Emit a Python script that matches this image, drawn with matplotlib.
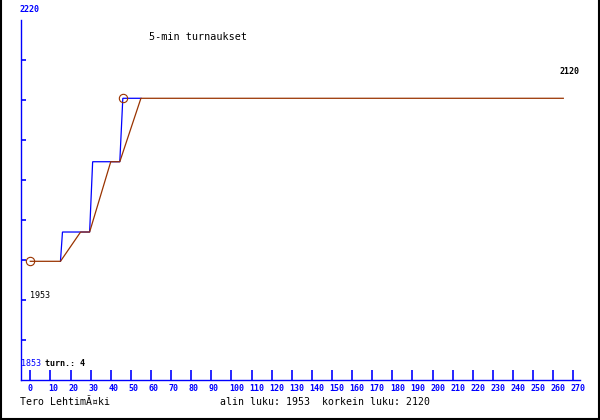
import matplotlib
matplotlib.use("Agg")
import matplotlib.pyplot as plt
import matplotlib.transforms as mtransforms
import numpy as np

# ---- data ----
title = "5-min turnaukset"
author = "Tero LehtimÃ¤ki"
lowest = 1953
highest = 2120
n_tournaments = 4
y_top_label = "2220"
y_bottom_label = "1853"

# rating steps (blue) : time vs rating
blue_x = [15, 16, 29.5, 31, 44.5, 46, 55]
blue_y = [1953, 1983, 1983, 2055, 2055, 2120, 2120]
# smoothed rating (brown)
brown_x = [0, 15, 25, 29.5, 40, 44.5, 55, 265]
brown_y = [1953, 1953, 1983, 1983, 2055, 2055, 2120, 2120]
# marked points: lowest (start) and highest
mark_x = [0, 46]
mark_y = [1953, 2120]

x_ticks = list(range(0, 271, 10))

BLUE = "#0000ff"
BROWN = "#993300"
W, H = 600, 420

fig = plt.figure(figsize=(6, 4.2), dpi=100)
fig.patch.set_facecolor("white")

ax = fig.add_axes([21 / W, 40 / H, 559 / W, 360 / H])
ax.set_xlim(-4.62, 273.3)
ylo, yhi = 1831.4, 2200.2
ax.set_ylim(ylo, yhi)

ax.plot(blue_x, blue_y, color=BLUE, lw=0.9, solid_joinstyle="miter")
ax.plot(brown_x, brown_y, color=BROWN, lw=0.9)
ax.plot(mark_x, mark_y, ls="none", marker="o", ms=6, mfc="none",
        mec=BROWN, mew=0.8)

for s in ["top", "right"]:
    ax.spines[s].set_visible(False)
for s in ["left", "bottom"]:
    ax.spines[s].set_color(BLUE)
    ax.spines[s].set_linewidth(1.0)

ax.set_xticks(x_ticks)
ax.set_xticklabels([str(v) for v in x_ticks])
ax.tick_params(axis="x", direction="in", length=7.2, width=1.2, colors=BLUE,
               labelsize=6, pad=3)
for lab in ax.get_xticklabels():
    lab.set_fontfamily("DejaVu Sans Mono")
    lab.set_fontweight("bold")
    lab.set_horizontalalignment("left")
    lab.set_transform(lab.get_transform() +
                      mtransforms.ScaledTranslation(-2.5 / 100, 0, fig.dpi_scale_trans))

ax.set_yticks(np.linspace(ylo, yhi, 10)[1:-1])
ax.set_yticklabels([])
ax.tick_params(axis="y", direction="in", length=3.6, width=1.2, colors=BLUE)

mono = "DejaVu Sans Mono"


def ftext(x, y, s, **kw):
    fig.text(x / W, 1 - y / H, s, family=mono, va="center", **kw)


ftext(20, 9, y_top_label, color=BLUE, fontsize=6, fontweight="bold")
ftext(149, 37, title, color="black", fontsize=7.3)
ftext(560, 72, str(highest), color="black", fontsize=6, fontweight="bold")
ftext(30, 295, str(lowest), color="black", fontsize=6)
ftext(20.5, 364, y_bottom_label, color=BLUE, fontsize=6)
ftext(45, 364, f"turn.: {n_tournaments}", color="black", fontsize=6, fontweight="bold")
ftext(20, 402, author, color="black", fontsize=7.1)
ftext(220, 402, f"alin luku: {lowest}  korkein luku: {highest}", color="black", fontsize=7.1)

# frame (left, right, bottom)
fig.add_artist(plt.Line2D([0.5 / W, 0.5 / W], [0, 1], color="black", lw=1.5,
                          transform=fig.transFigure))
fig.add_artist(plt.Line2D([599 / W, 599 / W], [0, 1], color="black", lw=1.5,
                          transform=fig.transFigure))
fig.add_artist(plt.Line2D([0, 1], [1.5 / H, 1.5 / H], color="black", lw=1.5,
                          transform=fig.transFigure))

fig.savefig("out.png", dpi=100, facecolor="white")
